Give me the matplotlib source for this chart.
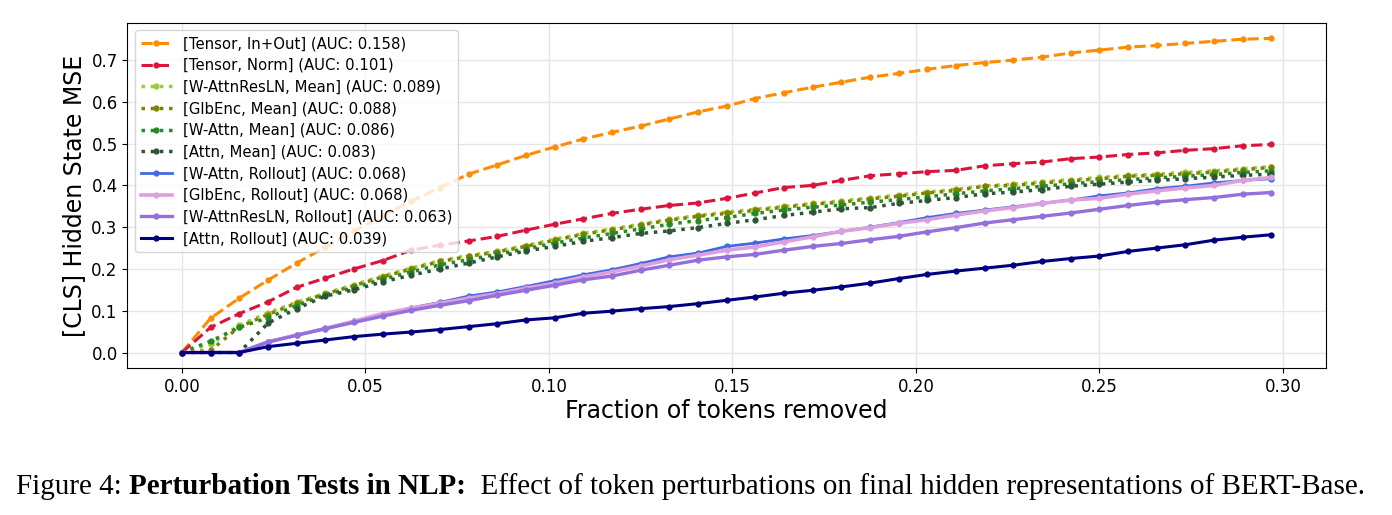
import matplotlib
matplotlib.use('Agg')
import matplotlib.pyplot as plt
import numpy as np

# fraction of tokens removed (39 steps of 1/128)
fraction = np.arange(39) / 128

tensor_inout = [0, 0.082, 0.130, 0.173, 0.214, 0.252, 0.290, 0.327, 0.362, 0.395,
                0.427, 0.449, 0.472, 0.492, 0.511, 0.527, 0.542, 0.559, 0.576, 0.590,
                0.608, 0.622, 0.635, 0.647, 0.659, 0.668, 0.678, 0.687, 0.694, 0.700,
                0.707, 0.717, 0.724, 0.731, 0.735, 0.740, 0.745, 0.750, 0.752]
tensor_norm = [0, 0.060, 0.093, 0.121, 0.156, 0.178, 0.200, 0.220, 0.245, 0.257,
               0.267, 0.278, 0.293, 0.307, 0.320, 0.333, 0.343, 0.352, 0.358, 0.369,
               0.382, 0.395, 0.400, 0.412, 0.423, 0.428, 0.433, 0.436, 0.447, 0.452,
               0.456, 0.464, 0.468, 0.474, 0.478, 0.484, 0.488, 0.495, 0.498]
wattnresln_mean = [0, 0.020, 0.065, 0.095, 0.120, 0.142, 0.162, 0.183, 0.202, 0.220,
                   0.232, 0.243, 0.256, 0.271, 0.285, 0.296, 0.307, 0.319, 0.328, 0.336,
                   0.343, 0.350, 0.357, 0.363, 0.370, 0.377, 0.384, 0.391, 0.399, 0.403,
                   0.409, 0.414, 0.419, 0.424, 0.427, 0.431, 0.435, 0.440, 0.445]
glbenc_mean = [0, 0.005, 0.061, 0.091, 0.118, 0.140, 0.160, 0.181, 0.200, 0.218,
               0.230, 0.241, 0.254, 0.269, 0.283, 0.294, 0.305, 0.317, 0.326, 0.333,
               0.340, 0.348, 0.355, 0.360, 0.368, 0.374, 0.382, 0.388, 0.398, 0.400,
               0.406, 0.411, 0.416, 0.422, 0.424, 0.428, 0.432, 0.438, 0.443]
wattn_mean = [0, 0.027, 0.060, 0.083, 0.112, 0.138, 0.155, 0.175, 0.193, 0.210,
              0.222, 0.235, 0.248, 0.262, 0.274, 0.285, 0.296, 0.307, 0.316, 0.323,
              0.333, 0.341, 0.348, 0.353, 0.360, 0.366, 0.373, 0.380, 0.387, 0.392,
              0.398, 0.404, 0.409, 0.414, 0.418, 0.422, 0.426, 0.431, 0.435]
attn_mean = [0, 0, 0, 0.070, 0.105, 0.135, 0.150, 0.169, 0.185, 0.200,
             0.214, 0.229, 0.243, 0.254, 0.266, 0.275, 0.285, 0.291, 0.299, 0.309,
             0.318, 0.328, 0.336, 0.344, 0.347, 0.357, 0.364, 0.371, 0.380, 0.384,
             0.390, 0.398, 0.403, 0.408, 0.412, 0.416, 0.420, 0.424, 0.427]
wattn_rollout = [0, 0, 0, 0.026, 0.042, 0.058, 0.075, 0.091, 0.107, 0.120,
                 0.135, 0.145, 0.158, 0.172, 0.186, 0.198, 0.213, 0.229, 0.238, 0.254,
                 0.262, 0.272, 0.280, 0.290, 0.300, 0.311, 0.323, 0.333, 0.341, 0.349,
                 0.357, 0.365, 0.375, 0.382, 0.392, 0.398, 0.406, 0.412, 0.416]
glbenc_rollout = [0, 0, 0, 0.025, 0.042, 0.057, 0.075, 0.093, 0.106, 0.118,
                  0.130, 0.141, 0.154, 0.166, 0.181, 0.193, 0.207, 0.222, 0.233, 0.245,
                  0.253, 0.265, 0.277, 0.290, 0.299, 0.309, 0.318, 0.329, 0.339, 0.347,
                  0.357, 0.365, 0.369, 0.379, 0.387, 0.394, 0.400, 0.412, 0.419]
wattnresln_rollout = [0, 0, 0, 0.025, 0.041, 0.057, 0.072, 0.087, 0.101, 0.113,
                      0.124, 0.137, 0.149, 0.161, 0.174, 0.183, 0.197, 0.209, 0.221, 0.229,
                      0.235, 0.245, 0.254, 0.261, 0.270, 0.278, 0.289, 0.299, 0.310, 0.318,
                      0.326, 0.334, 0.343, 0.352, 0.360, 0.366, 0.371, 0.379, 0.383]
attn_rollout = [0, 0, 0, 0.014, 0.022, 0.030, 0.038, 0.044, 0.049, 0.055,
                0.062, 0.069, 0.078, 0.083, 0.094, 0.099, 0.105, 0.110, 0.117, 0.125,
                0.133, 0.142, 0.149, 0.157, 0.166, 0.177, 0.187, 0.195, 0.202, 0.209,
                0.218, 0.225, 0.231, 0.242, 0.250, 0.258, 0.269, 0.276, 0.282]

# label, values, colour, linestyle, linewidth
series = [
    ('[Tensor, In+Out] (AUC: 0.158)', tensor_inout, 'darkorange', '--', 2.2),
    ('[Tensor, Norm] (AUC: 0.101)', tensor_norm, 'crimson', '--', 2.2),
    ('[W-AttnResLN, Mean] (AUC: 0.089)', wattnresln_mean, 'yellowgreen', ':', 2.5),
    ('[GlbEnc, Mean] (AUC: 0.088)', glbenc_mean, 'olive', ':', 2.5),
    ('[W-Attn, Mean] (AUC: 0.086)', wattn_mean, 'forestgreen', ':', 2.5),
    ('[Attn, Mean] (AUC: 0.083)', attn_mean, '#2e5535', ':', 2.5),
    ('[W-Attn, Rollout] (AUC: 0.068)', wattn_rollout, 'royalblue', '-', 2.0),
    ('[GlbEnc, Rollout] (AUC: 0.068)', glbenc_rollout, 'plum', '-', 2.6),
    ('[W-AttnResLN, Rollout] (AUC: 0.063)', wattnresln_rollout, 'mediumpurple', '-', 2.4),
    ('[Attn, Rollout] (AUC: 0.039)', attn_rollout, 'navy', '-', 2.2),
]

fig = plt.figure(figsize=(13.92, 5.15), dpi=100)
ax = fig.add_axes([0.0915, 0.285, 0.861, 0.671])

for label, vals, color, ls, lw in series:
    ax.plot(fraction, vals, linestyle=ls, color=color, linewidth=lw,
            marker='o', markersize=3.5, label=label)

ax.grid(True, color='#e6e6e6', linewidth=1)
ax.set_axisbelow(True)
ax.set_xticks([0.0, 0.05, 0.10, 0.15, 0.20, 0.25, 0.30])
ax.set_xticklabels(['0.00', '0.05', '0.10', '0.15', '0.20', '0.25', '0.30'])
ax.set_yticks(np.arange(0, 0.71, 0.1))
ax.set_yticklabels(['0.0', '0.1', '0.2', '0.3', '0.4', '0.5', '0.6', '0.7'])
ax.tick_params(labelsize=12)
ax.set_xlabel('Fraction of tokens removed', fontsize=17, labelpad=2)
ax.set_ylabel('[CLS] Hidden State MSE', fontsize=17)
ax.legend(loc='upper left', fontsize=10.7, handlelength=2.1, handletextpad=0.75,
          labelspacing=0.45, borderpad=0.4)

# caption in serif, with the bold part
fig.canvas.draw()
renderer = fig.canvas.get_renderer()
cap_y = 0.041
parts = [('Figure 4: ', 'normal'), ('Perturbation Tests in NLP:', 'bold'),
         ('  Effect of token perturbations on final hidden representations of BERT-Base.', 'normal')]
xpos = 16 / 1392
for txt, weight in parts:
    t = fig.text(xpos, cap_y, txt, fontsize=21, family='Liberation Serif',
                 fontweight=weight, va='baseline', ha='left')
    bb = t.get_window_extent(renderer)
    xpos += bb.width / fig.bbox.width

fig.savefig('out.png', dpi=100)
